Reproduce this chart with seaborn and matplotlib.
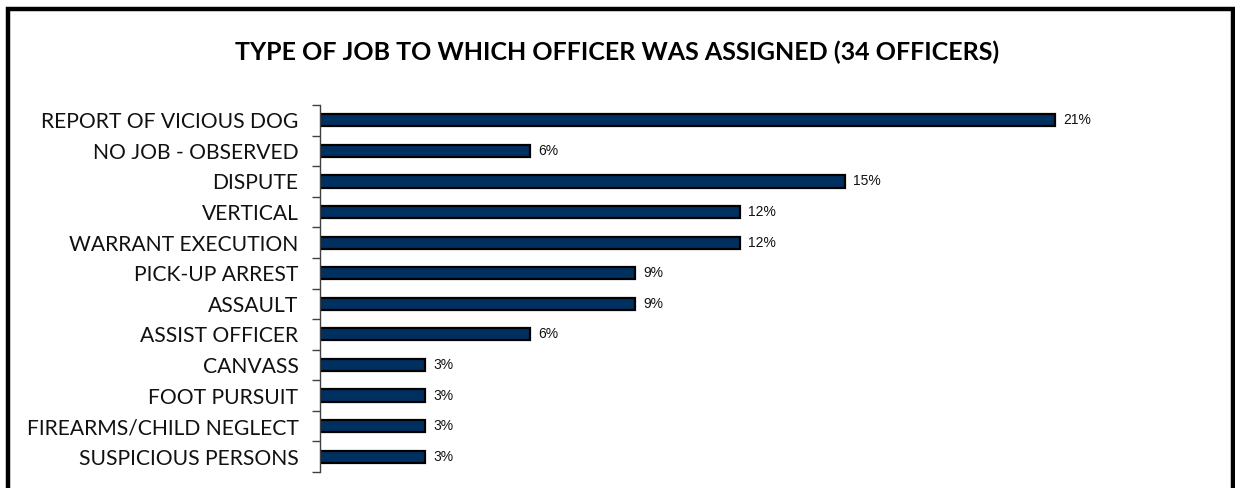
import matplotlib
matplotlib.use("Agg")
import matplotlib.pyplot as plt
from matplotlib.patches import Rectangle
import seaborn as sns
import pandas as pd

categories = [
    "REPORT OF VICIOUS DOG",
    "NO JOB - OBSERVED",
    "DISPUTE",
    "VERTICAL",
    "WARRANT EXECUTION",
    "PICK-UP ARREST",
    "ASSAULT",
    "ASSIST OFFICER",
    "CANVASS",
    "FOOT PURSUIT",
    "FIREARMS/CHILD NEGLECT",
    "SUSPICIOUS PERSONS",
]
percentages = [21, 6, 15, 12, 12, 9, 9, 6, 3, 3, 3, 3]
title = "TYPE OF JOB TO WHICH OFFICER WAS ASSIGNED (34 OFFICERS)"

df = pd.DataFrame({"job": categories, "pct": percentages})

sns.set_theme(style="white")
plt.rcParams["font.family"] = ["Lato", "DejaVu Sans"]

W, H = 1235, 488
fig = plt.figure(figsize=(W / 100, H / 100), dpi=100)
ax = fig.add_axes([320 / W, 1 - 472 / H, 875 / W, 367 / H])

sns.barplot(data=df, x="pct", y="job", orient="h", color="#00305F",
            edgecolor="black", linewidth=1.6, width=0.4, saturation=1, ax=ax)

ax.set_xlim(0, 25)
ax.set_ylim(len(categories) - 0.5, -0.5)
ax.set_xlabel("")
ax.set_ylabel("")
ax.set_xticks([])

for side in ("top", "right", "bottom"):
    ax.spines[side].set_visible(False)
ax.spines["left"].set_color("#404040")
ax.spines["left"].set_linewidth(1.0)

# labels at category centres, tick marks at the boundaries between categories
ax.set_yticks(range(len(categories)))
ax.set_yticklabels(categories, fontsize=15.2, color="#111111")
ax.tick_params(axis="y", which="major", length=0, pad=15.5)
ax.set_yticks([i - 0.5 for i in range(len(categories) + 1)], minor=True)
ax.tick_params(axis="y", which="minor", length=6, width=1.0, color="#404040", left=True)

for i, v in enumerate(percentages):
    ax.annotate(f"{v}%", xy=(v, i), xytext=(6, 0), textcoords="offset points",
                va="center", ha="left", fontsize=10,
                family=["Liberation Sans", "DejaVu Sans"], color="#111111")

fig.text(0.5, 1 - 52 / H, title, ha="center", va="center",
         fontsize=18, fontweight="bold", color="black")

# outer frame, open at the bottom edge of the image
fig.patches.append(Rectangle((8 / W, -0.05), (1232.5 - 8) / W, 1.05 - 9 / H,
                             transform=fig.transFigure, fill=False,
                             edgecolor="black", linewidth=3.2))

fig.savefig("out.png", dpi=100, facecolor="white")
